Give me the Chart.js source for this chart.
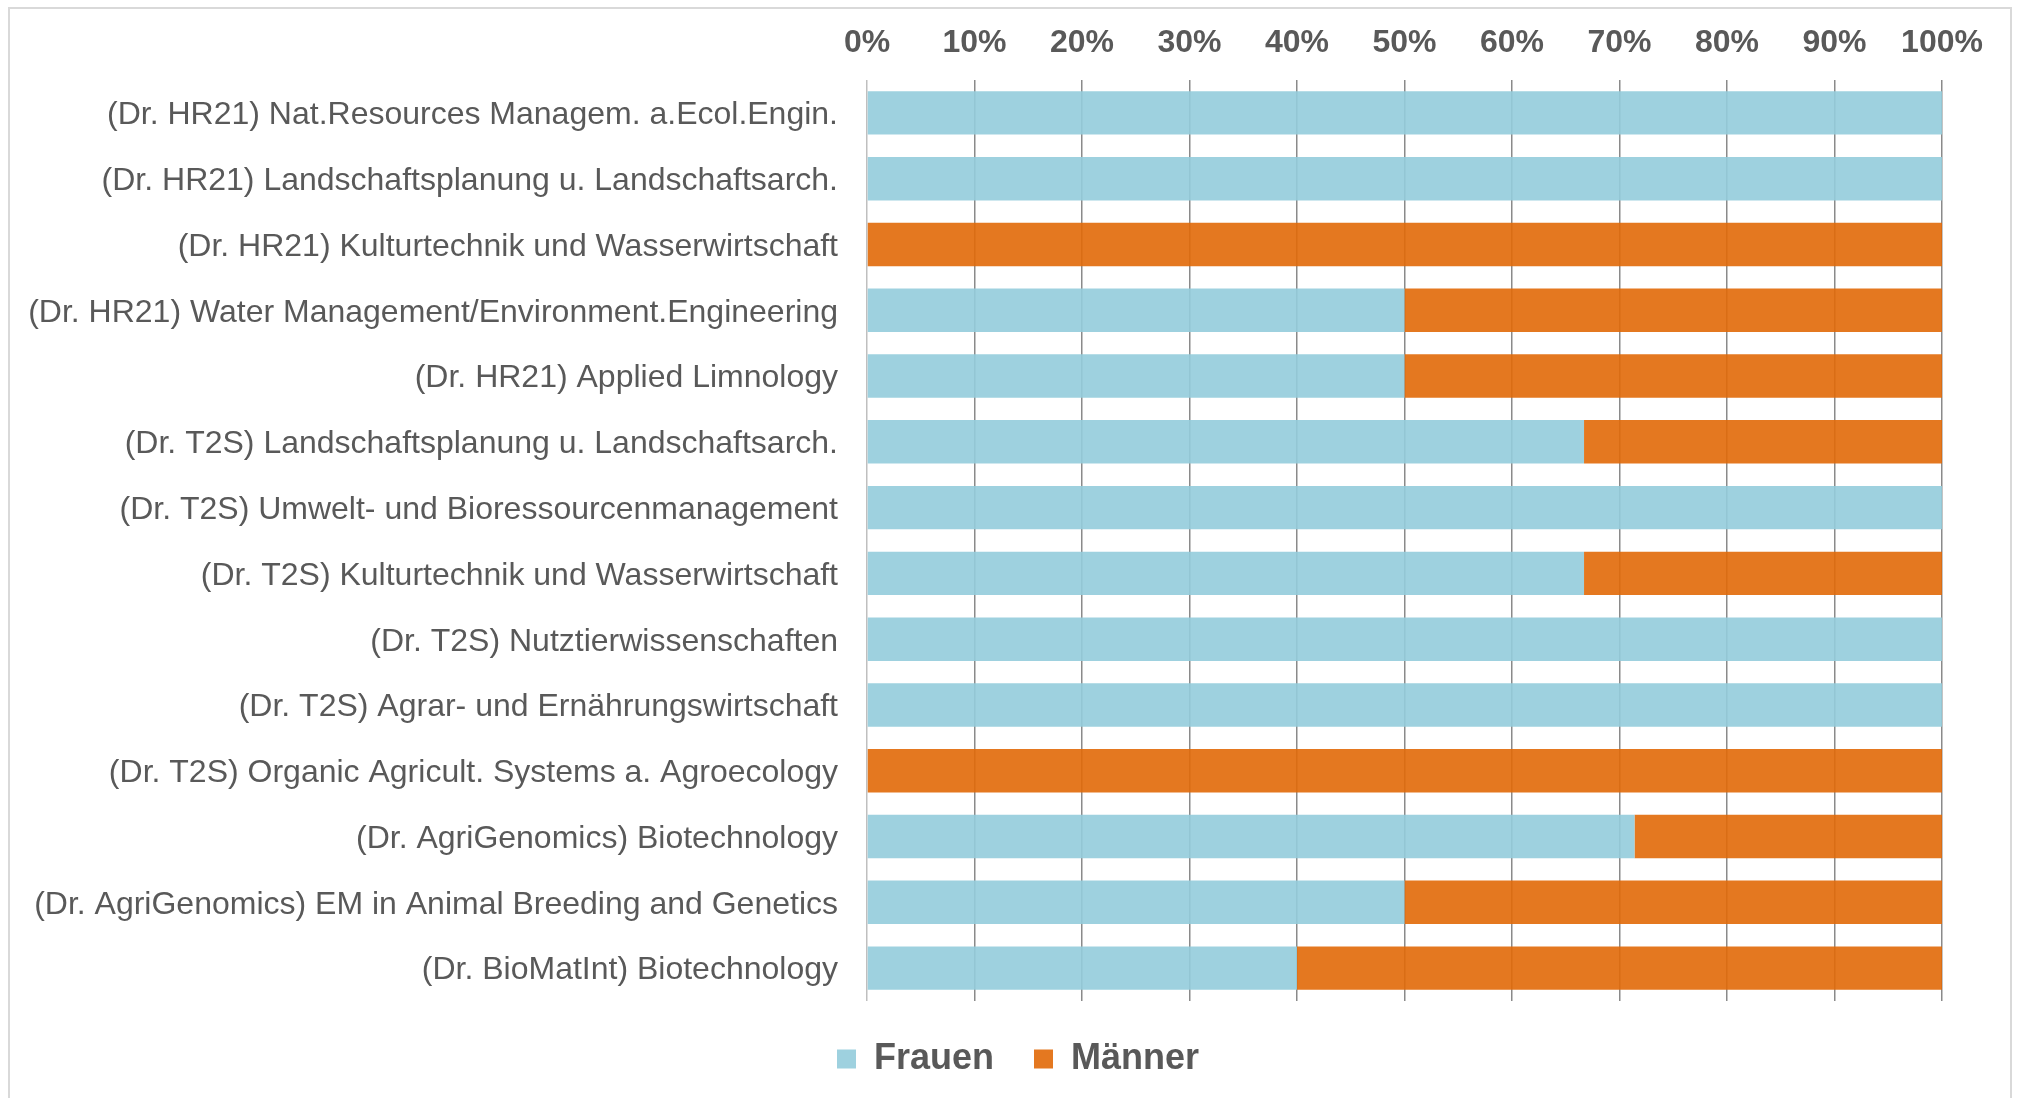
<!DOCTYPE html>
<html lang="de">
<head>
    <meta charset="UTF-8">
    <title>Frauen und Männer nach Doktoratsprogramm</title>
    <script src="https://cdn.jsdelivr.net/npm/chart.js"></script>
    <style>
        body {
            margin: 0;
            padding: 0;
            background: #ffffff;
            overflow: hidden;
        }
        .frame {
            position: absolute;
            left: 8px;
            top: 7px;
            width: 2004px;
            height: 1110px;
            border: 2px solid #d9d9d9;
            box-sizing: border-box;
        }
        .chart-box {
            position: absolute;
            left: 0;
            top: 0;
            width: 2019px;
            height: 1098px;
        }
    </style>
</head>
<body>
    <div class="frame"></div>
    <div class="chart-box">
        <canvas id="genderChart"></canvas>
    </div>
    <script>
        const programmes = [
            '(Dr. HR21) Nat.Resources Managem. a.Ecol.Engin.',
            '(Dr. HR21) Landschaftsplanung u. Landschaftsarch.',
            '(Dr. HR21) Kulturtechnik und Wasserwirtschaft',
            '(Dr. HR21) Water Management/Environment.Engineering',
            '(Dr. HR21) Applied Limnology',
            '(Dr. T2S) Landschaftsplanung u. Landschaftsarch.',
            '(Dr. T2S) Umwelt- und Bioressourcenmanagement',
            '(Dr. T2S) Kulturtechnik und Wasserwirtschaft',
            '(Dr. T2S) Nutztierwissenschaften',
            '(Dr. T2S) Agrar- und Ernährungswirtschaft',
            '(Dr. T2S) Organic Agricult. Systems a. Agroecology',
            '(Dr. AgriGenomics) Biotechnology',
            '(Dr. AgriGenomics) EM in Animal Breeding and Genetics',
            '(Dr. BioMatInt) Biotechnology'
        ];

        // share in percent
        const frauen = [100, 100, 0, 50, 50, 66.7, 100, 66.7, 100, 100, 0, 71.4, 50, 40];
        const maenner = [0, 0, 100, 50, 50, 33.3, 0, 33.3, 0, 0, 100, 28.6, 50, 60];

        const xTicks = [0, 10, 20, 30, 40, 50, 60, 70, 80, 90, 100];

        const fontFamily = "'Liberation Sans', Arial, sans-serif";
        const textColor = '#595959';

        // the legend in the original sits a bit right of the canvas centre
        const legendShift = {
            id: 'legendShift',
            afterLayout(chart) {
                chart.legend.left += 47;
                chart.legend.right += 47;
            }
        };

        const ctx = document.getElementById('genderChart').getContext('2d');
        const chart = new Chart(ctx, {
            type: 'bar',
            data: {
                labels: programmes,
                datasets: [
                    {
                        label: 'Frauen',
                        data: frauen,
                        backgroundColor: 'rgba(147, 204, 219, 0.9)',
                        borderWidth: 0
                    },
                    {
                        label: 'Männer',
                        data: maenner,
                        backgroundColor: 'rgba(225, 105, 8, 0.9)',
                        borderWidth: 0
                    }
                ]
            },
            options: {
                indexAxis: 'y',
                responsive: true,
                maintainAspectRatio: false,
                animation: false,
                layout: {
                    padding: { top: 20, left: 0, right: 77, bottom: 11 }
                },
                datasets: {
                    bar: {
                        barPercentage: 0.66,
                        categoryPercentage: 1
                    }
                },
                plugins: {
                    tooltip: { enabled: false },
                    legend: {
                        position: 'bottom',
                        labels: {
                            boxWidth: 19,
                            boxHeight: 19,
                            padding: 40,
                            color: textColor,
                            font: { family: fontFamily, size: 36, weight: 'bold' }
                        }
                    }
                },
                scales: {
                    x: {
                        position: 'top',
                        stacked: true,
                        min: 0,
                        max: 100,
                        afterBuildTicks: (scale) => {
                            scale.ticks = xTicks.map(v => ({ value: v }));
                        },
                        afterFit: (scale) => {
                            scale.height = 60;
                        },
                        ticks: {
                            callback: (v) => v + '%',
                            color: textColor,
                            padding: 18,
                            maxRotation: 0,
                            autoSkip: false,
                            font: { family: fontFamily, size: 32, weight: 'bold' }
                        },
                        grid: {
                            drawTicks: false,
                            lineWidth: 1.5,
                            color: (c) => c.index === 0 ? '#bfbfbf' : '#8a8a8a'
                        },
                        border: { display: false }
                    },
                    y: {
                        stacked: true,
                        afterFit: (scale) => {
                            scale.width = 867;
                        },
                        ticks: {
                            color: textColor,
                            padding: 29,
                            labelOffset: 2.5,
                            autoSkip: false,
                            font: { family: fontFamily, size: 32 }
                        },
                        grid: { display: false, drawTicks: false },
                        border: { display: false }
                    }
                }
            },
            plugins: [legendShift]
        });
    </script>
</body>
</html>
